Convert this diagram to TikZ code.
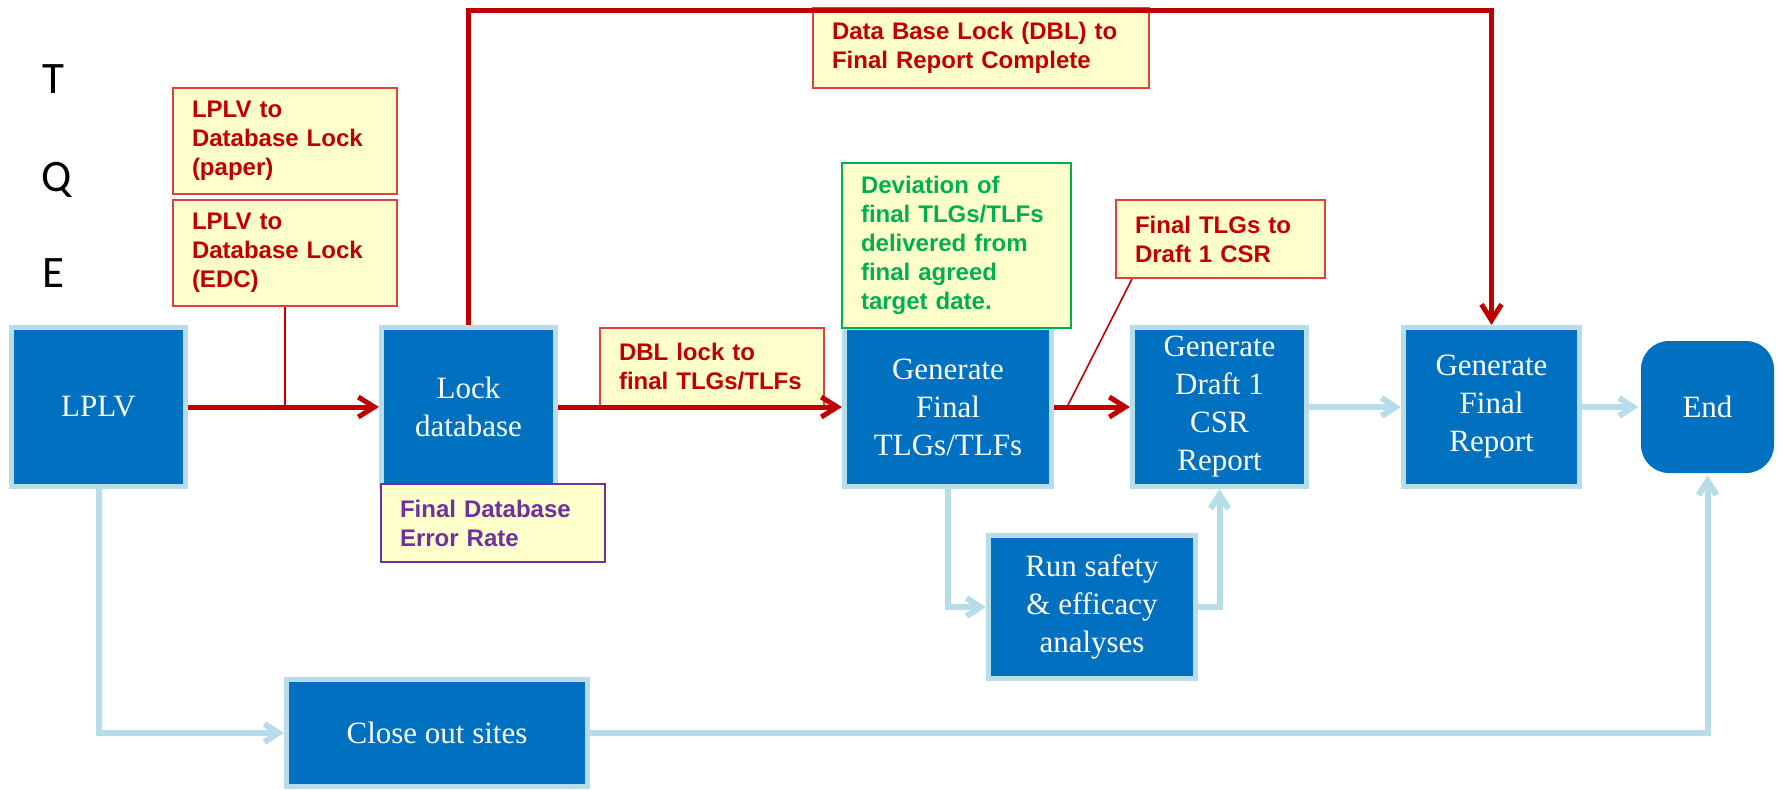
\documentclass[tikz,border=0pt]{standalone}
\usepackage{fontspec}
\setmainfont{Liberation Serif}
\newfontfamily\notefont{Liberation Sans}
\newfontfamily\sidefont{Carlito}
\usetikzlibrary{positioning,arrows.meta}
\definecolor{boxblue}{HTML}{0070C0}
\definecolor{edgeblue}{HTML}{B7DEE8}
\definecolor{lockred}{HTML}{C00000}
\definecolor{noteyellow}{HTML}{FFFFCC}
\definecolor{noteedge}{HTML}{E04040}
\definecolor{notegreen}{HTML}{00B050}
\definecolor{notepurple}{HTML}{7030A0}

\begin{document}
\begin{tikzpicture}[x=0.5pt,y=-0.5pt,
    task/.style={fill=boxblue,draw=edgeblue,line width=2.5pt,text=white,align=center,inner sep=0pt,font=\fontsize{15.5}{19}\selectfont},
    note/.style={fill=noteyellow,draw=noteedge,line width=1pt,anchor=north west,align=left,inner xsep=9.5pt,inner ysep=0pt,text=lockred,font=\notefont\bfseries\fontsize{12}{14.5}\selectfont},
    side/.style={anchor=base west,font=\sidefont\fontsize{22.5}{27}\selectfont},
    redflow/.style={draw=lockred,line width=2.5pt,-{Straight Barb[length=8pt,width=10pt]}},
    blueflow/.style={draw=edgeblue,line width=3pt,-{Straight Barb[length=7pt,width=9pt]}},
    pointer/.style={draw=lockred,line width=0.8pt}]
  \useasboundingbox (0,0) rectangle (1783,789);

  \node[side] (T) at (35,93) {T};
  \node[side] (Q) at (34,191) {Q};
  \node[side] (E) at (35,287) {E};

  \node[task,minimum width=87pt,minimum height=79.5pt] (LPLV) at (98.5,407) {LPLV};
  \node[task,minimum width=87pt,minimum height=79.5pt] (lock) at (468.5,407) {Lock\\database};
  \node[task,minimum width=103.5pt,minimum height=79.5pt] (final) at (948,407) {Generate\\Final\\TLGs/TLFs};
  \node[task,minimum width=87pt,minimum height=79.5pt] (draft) at (1219.5,407) {Generate\\Draft 1\\CSR\\Report};
  \node[task,minimum width=88pt,minimum height=79.5pt] (report) at (1491.5,407) {Generate\\Final\\Report};
  \node[task,draw=none,rounded corners=14pt,minimum width=66.5pt,minimum height=66pt] (End) at (1707.5,407) {End};
  \node[task,minimum width=103.5pt,minimum height=71.5pt] (safety) at (1092,607) {Run safety\\\& efficacy\\analyses};
  \node[task,minimum width=150.5pt,minimum height=53.5pt] (close) at (437,733) {Close out sites};

  \node[note,text width=93pt,minimum height=53pt] (paper) at (172,87) {LPLV to\\Database Lock\\(paper)};
  \node[note,text width=93pt,minimum height=53pt] (edc) at (172,199) {LPLV to\\Database Lock\\(EDC)};
  \node[note,text width=149pt,minimum height=40pt] (dbl) at (812,7) {Data Base Lock (DBL) to\\Final Report Complete};
  \node[note,text width=93pt,minimum height=39pt] (dblnote) at (599,327) {DBL lock to\\final TLGs/TLFs};
  \node[note,draw=notegreen,text=notegreen,text width=95.5pt,minimum height=82.5pt] (deviation) at (841,162) {Deviation of\\final TLGs/TLFs\\delivered from\\final agreed\\target date.};
  \node[note,text width=85.5pt,minimum height=39pt] (tlgnote) at (1115,199) {Final TLGs to\\Draft 1 CSR};
  \node[note,draw=notepurple,text=notepurple,text width=93pt,minimum height=39pt] (error) at (380,483) {Final Database\\Error Rate};

  \coordinate (top) at (0,10);
  \draw[redflow] (LPLV) -- (lock);
  \draw[pointer] (edc.south) -- (edc.south |- lock.west);
  \draw[redflow] (lock.north) -- (lock.north |- top) -| (report.north);
  \draw[redflow] (lock) -- (final);
  \draw[redflow] (final) -- (draft);
  \draw[pointer] ([xshift=8.5pt]tlgnote.south west) -- ([xshift=6.5pt]final.east);

  \draw[blueflow] (draft) -- (report);
  \draw[blueflow] (report) -- (End);
  \draw[blueflow] (final.south) |- (safety.west);
  \draw[blueflow] (safety.east) -| (draft.south);
  \draw[blueflow] (LPLV.south) |- (close.west);
  \draw[blueflow] (close.east) -| (End.south);
\end{tikzpicture}
\end{document}
